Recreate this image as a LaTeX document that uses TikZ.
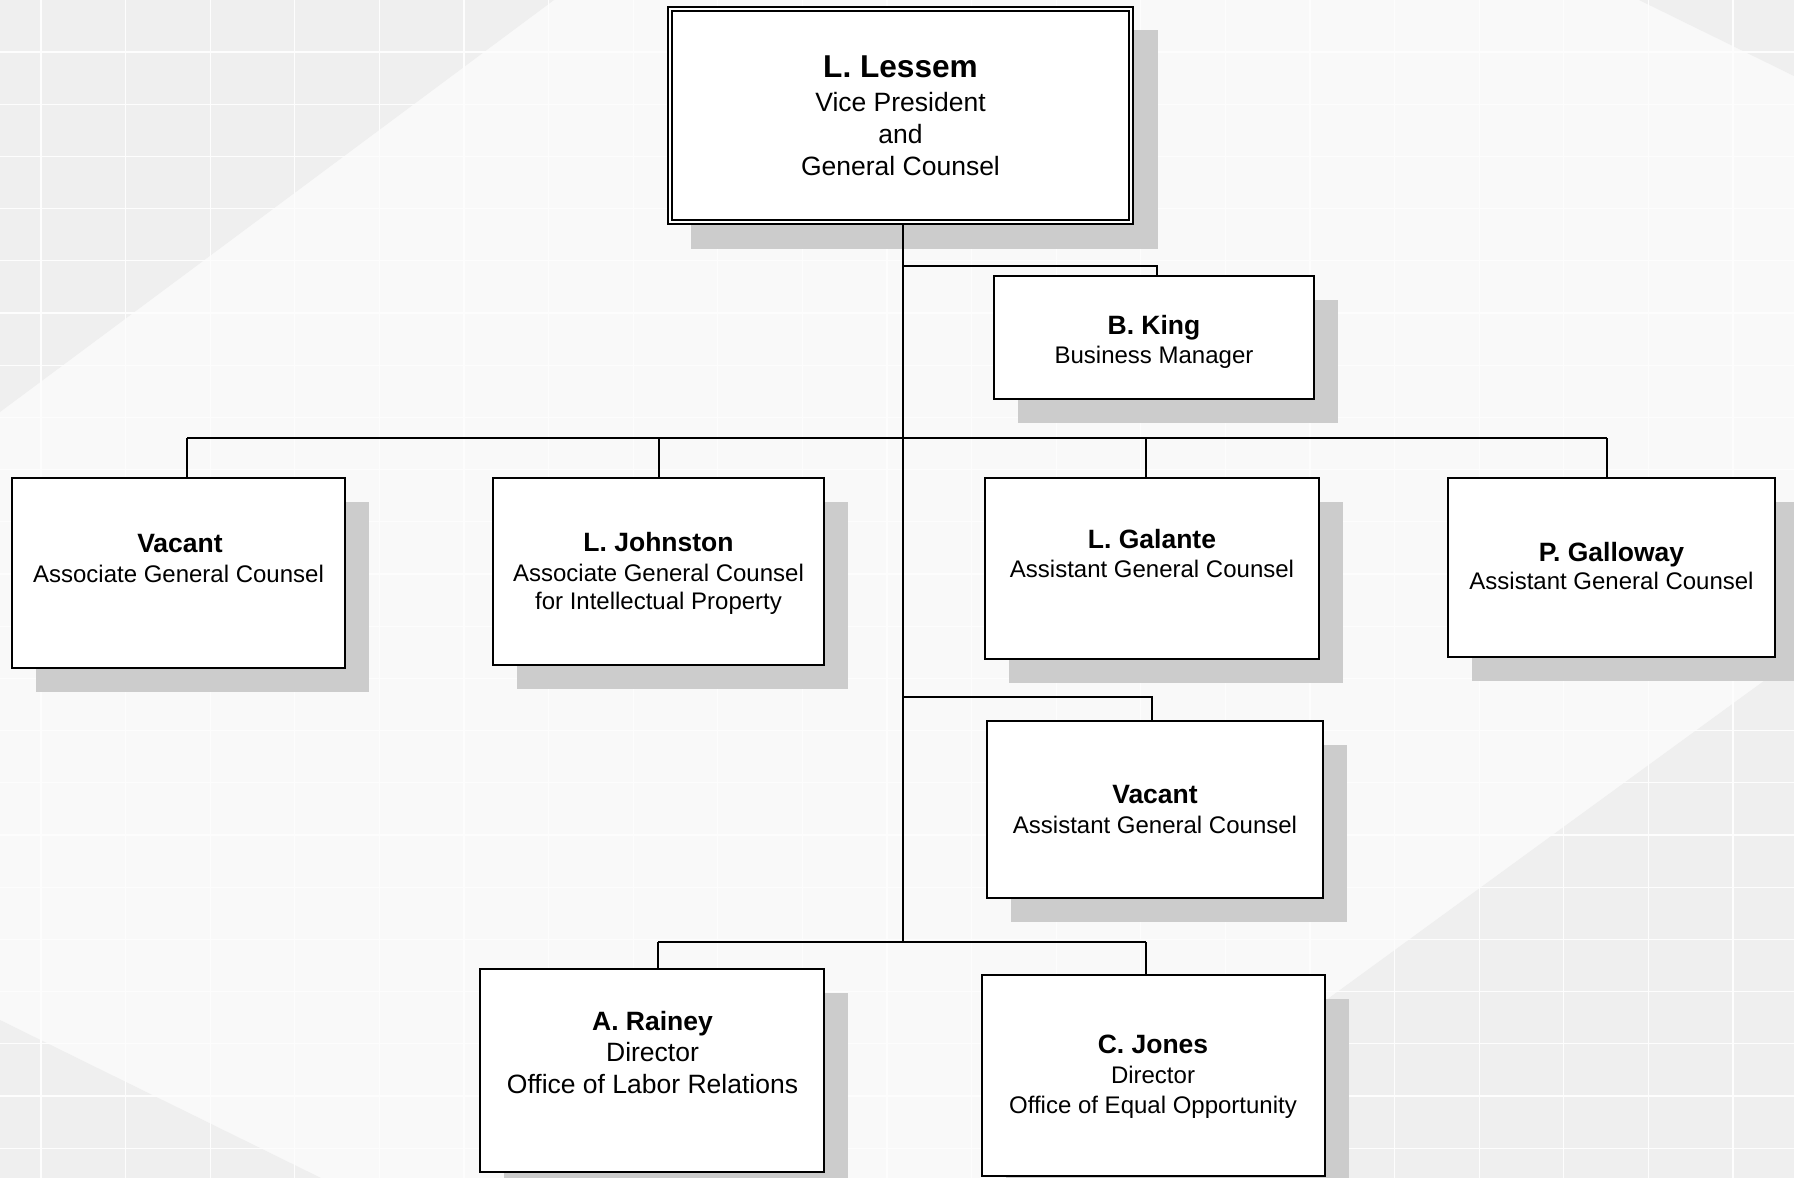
\documentclass[tikz,border=0pt]{standalone}
\usepackage{fontspec}
\setmainfont{Liberation Sans}
\usetikzlibrary{shadows}
\definecolor{bgbase}{HTML}{F9F9F9}
\definecolor{bgtri}{HTML}{EFEFEF}
\definecolor{shadowc}{HTML}{CCCCCC}
\definecolor{gridc}{HTML}{FDFDFD}
\tikzset{
  gridline/.style={draw=gridc, line width=1.2pt},
  orgbox/.style={draw=black, line width=2.4pt, fill=white, inner sep=0pt,
    general shadow={fill=shadowc, shadow xshift=24pt, shadow yshift=-24pt}},
  topbox/.style={draw=black, line width=2pt, double=white, double distance=2pt,
    fill=white, inner sep=0pt,
    general shadow={fill=shadowc, draw=shadowc, line width=6pt, shadow xshift=24pt, shadow yshift=-24pt}},
  conn/.style={draw=black, line width=2pt},
  bigname/.style={anchor=base, inner sep=0pt, font=\fontsize{31.6}{36}\selectfont\bfseries},
  bigtitle/.style={anchor=base, inner sep=0pt, font=\fontsize{26.5}{30}\selectfont},
  pname/.style={anchor=base, inner sep=0pt, font=\fontsize{26.5}{30}\selectfont\bfseries},
  ptitle/.style={anchor=base, inner sep=0pt, font=\fontsize{24}{28}\selectfont},
}
\begin{document}
\begin{tikzpicture}[x=1pt, y=-1pt]
\useasboundingbox (0,0) rectangle (1794,1178);
% background
\begin{scope}
\clip (0,0) rectangle (1794,1178);
\fill[bgbase] (0,0) rectangle (1794,1178);
\fill[bgtri] (0,0) -- (554,0) -- (0,412) -- cycle;
\fill[bgtri] (1639,0) -- (1794,0) -- (1794,76) -- cycle;
\fill[bgtri] (0,1020) -- (321,1178) -- (0,1178) -- cycle;
\fill[bgtri] (1082,1178) -- (1794,659) -- (1794,1178) -- cycle;
\foreach \k in {0,...,21} {\draw[gridline] ({41+84.6*\k},0) -- ({41+84.6*\k},1178);}
\foreach \k in {0,...,22} {\draw[gridline] (0,{52+52.2*\k}) -- (1794,{52+52.2*\k});}
\end{scope}

% boxes
\node[topbox, minimum width=461pt, minimum height=213pt] (top) at (900.5,115.5) {};
\node[orgbox, minimum width=319.6pt, minimum height=122.6pt] (king) at (1154,337.5) {};
\node[orgbox, minimum width=332.6pt, minimum height=189.6pt] (vac1) at (178.5,573) {};
\node[orgbox, minimum width=330.6pt, minimum height=186.6pt] (john) at (658.5,571.5) {};
\node[orgbox, minimum width=333.6pt, minimum height=180.6pt] (gal) at (1152,568.5) {};
\node[orgbox, minimum width=326.6pt, minimum height=178.6pt] (gallo) at (1611.5,567.5) {};
\node[orgbox, minimum width=335.6pt, minimum height=176.6pt] (vac2) at (1155,809.5) {};
\node[orgbox, minimum width=343.6pt, minimum height=202.6pt] (rainey) at (652,1070.5) {};
\node[orgbox, minimum width=342.6pt, minimum height=200.6pt] (jones) at (1153.5,1075.5) {};

% texts
\node[bigname] (top-a) at (900.5,77) {L. Lessem};
\node[bigtitle] (top-b) at (900.5,111) {Vice President};
\node[bigtitle] (top-c) at (900.5,143) {and};
\node[bigtitle] (top-d) at (900.5,175) {General Counsel};

\node[pname] (king-a) at (1154,334) {B. King};
\node[ptitle] (king-b) at (1154,363) {Business Manager};

\node[pname] (vac1-a) at (180,552) {Vacant};
\node[ptitle] (vac1-b) at (178.5,582) {Associate General Counsel};

\node[pname] (john-a) at (658.5,551) {L. Johnston};
\node[ptitle] (john-b) at (658.5,581) {Associate General Counsel};
\node[ptitle] (john-c) at (658.5,609) {for Intellectual Property};

\node[pname] (gal-a) at (1152,548) {L. Galante};
\node[ptitle] (gal-b) at (1152,577) {Assistant General Counsel};

\node[pname] (gallo-a) at (1611.5,561) {P. Galloway};
\node[ptitle] (gallo-b) at (1611.5,589) {Assistant General Counsel};

\node[pname] (vac2-a) at (1155,803) {Vacant};
\node[ptitle] (vac2-b) at (1155,833) {Assistant General Counsel};

\node[pname] (rainey-a) at (652.5,1030) {A. Rainey};
\node[bigtitle] (rainey-b) at (652.5,1061) {Director};
\node[bigtitle] (rainey-c) at (652.5,1093) {Office of Labor Relations};

\node[pname] (jones-a) at (1153,1053) {C. Jones};
\node[ptitle] (jones-b) at (1153,1083) {Director};
\node[ptitle] (jones-c) at (1153,1113) {Office of Equal Opportunity};

% junctions
\coordinate (jk) at (903,266);
\coordinate (kk) at (1157,266);
\coordinate (j2) at (903,438);
\coordinate (l2a) at (187,438);
\coordinate (l2b) at (658.5,438);
\coordinate (l2c) at (1146,438);
\coordinate (l2d) at (1607,438);
\coordinate (jv) at (903,697);
\coordinate (vv) at (1152,697);
\coordinate (jb) at (903,942);
\coordinate (b1) at (658,942);
\coordinate (b2) at (1146,942);

% connectors
\draw[conn] (top.south -| jk) -- (jb);
\draw[conn] (jk) -- (kk) -- (kk |- king.north);
\draw[conn] (l2a) -- (l2d);
\draw[conn] (l2a) -- (l2a |- vac1.north);
\draw[conn] (l2b) -- (l2b |- john.north);
\draw[conn] (l2c) -- (l2c |- gal.north);
\draw[conn] (l2d) -- (l2d |- gallo.north);
\draw[conn] (jv) -- (vv) -- (vv |- vac2.north);
\draw[conn] (b1) -- (b2);
\draw[conn] (b1) -- (b1 |- rainey.north);
\draw[conn] (b2) -- (b2 |- jones.north);
\end{tikzpicture}
\end{document}
